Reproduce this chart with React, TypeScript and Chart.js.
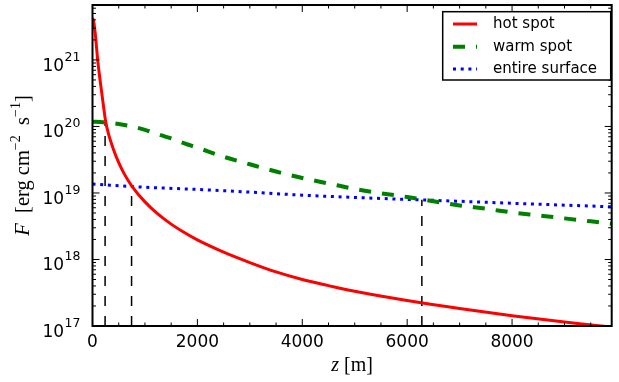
import React, { useEffect, useRef } from "react";
import { Chart, registerables } from "chart.js";

Chart.register(...registerables);

// ---- data (z in metres, F in erg cm^-2 s^-1) ----
const hotZ = [0, 25, 50, 75, 100, 125, 150, 200, 250, 300, 400, 500, 600, 750, 1000, 1250, 1500, 1750, 2000, 2500, 3000, 3500, 4000, 4500, 5000, 6000, 7000, 8000, 9000, 9700, 9900];
const hotF = [4.3e21, 3.7e21, 2.6e21, 1.6e21, 9.8e20, 6.6e20, 4.6e20, 2.3e20, 1.2e20, 8.0e19, 4.5e19, 2.85e19, 1.97e19, 1.27e19, 7.35e18, 4.8e18, 3.4e18, 2.54e18, 1.97e18, 1.29e18, 9.0e17, 6.5e17, 5.0e17, 4.05e17, 3.32e17, 2.41e17, 1.83e17, 1.43e17, 1.15e17, 1.0e17, 9.6e16];

const warmZ = [0, 200, 500, 700, 1000, 1300, 1500, 1800, 2000, 2500, 3000, 3500, 4000, 4500, 5000, 5500, 6000, 6500, 7000, 7500, 8000, 8500, 9000, 9500, 9900];
const warmF = [1.18e20, 1.16e20, 1.09e20, 1.02e20, 8.9e19, 7.4e19, 6.6e19, 5.4e19, 4.8e19, 3.5e19, 2.7e19, 2.1e19, 1.68e19, 1.39e19, 1.15e19, 9.9e18, 8.7e18, 7.5e18, 6.5e18, 5.8e18, 5.1e18, 4.6e18, 4.15e18, 3.75e18, 3.45e18];

const surfZ = [0, 1000, 2000, 3000, 4000, 5000, 6000, 7000, 8000, 9000, 9900];
const surfF = [1.36e19, 1.22e19, 1.13e19, 1.03e19, 9.27e18, 8.56e18, 8.0e18, 7.5e18, 7.0e18, 6.56e18, 6.2e18];

// crossing markers (vertical dashed lines)
const markerZ = [240, 745, 6280];
const markerF = [1.17e20, 1.27e19, 7.9e18];

const seriesLabels = ["hot spot", "warm spot", "entire surface"];
const xMajorTicks = [0, 2000, 4000, 6000, 8000];
const xMinorStep = 500;
const yDecades = [17, 18, 19, 20, 21];

const X_MIN = 0;
const X_MAX = 9900;
const Y_MIN = 1e17;
const Y_MAX = 6.7e21;

const RED = "#ff0000";
const GREEN = "#008000";
const BLUE = "#0000ff";
const GREEN_DASH = [12, 11];
const BLUE_DASH = [3, 4.7];

const SANS = "'DejaVu Sans', sans-serif";
const SERIF = "'Liberation Serif', 'DejaVu Serif', serif";

function drawSegments(ctx: CanvasRenderingContext2D, segs: { t: string; f: string; dy: number }[], cx: number, baseY: number) {
  let total = 0;
  const widths = segs.map((s) => {
    ctx.font = s.f;
    const w = ctx.measureText(s.t).width;
    total += w;
    return w;
  });
  let x = cx - total / 2;
  ctx.textAlign = "left";
  ctx.textBaseline = "alphabetic";
  segs.forEach((s, i) => {
    ctx.font = s.f;
    ctx.fillText(s.t, x, baseY + s.dy);
    x += widths[i];
  });
}

const framePlugin = {
  id: "mplFrame",
  afterDatasetsDraw(chart: any) {
    const { ctx, chartArea: a, scales } = chart;
    const xs = scales.x;
    const ys = scales.y;
    ctx.save();
    ctx.strokeStyle = "#000";
    ctx.fillStyle = "#000";
    ctx.lineWidth = 1;
    ctx.setLineDash([]);
    const line = (x1: number, y1: number, x2: number, y2: number) => {
      ctx.beginPath();
      ctx.moveTo(x1, y1);
      ctx.lineTo(x2, y2);
      ctx.stroke();
    };
    // x ticks (inside, bottom + top)
    for (let v = X_MIN; v <= X_MAX; v += xMinorStep) {
      const x = xs.getPixelForValue(v);
      const len = xMajorTicks.includes(v) ? 7 : 3.5;
      line(x, a.bottom, x, a.bottom - len);
      line(x, a.top, x, a.top + len);
    }
    // y ticks (log, inside, left + right)
    for (const d of yDecades) {
      for (let m = 1; m <= 9; m++) {
        const v = m * Math.pow(10, d);
        if (v > Y_MAX) break;
        const y = ys.getPixelForValue(v);
        const len = m === 1 ? 7 : 3.5;
        line(a.left, y, a.left + len, y);
        line(a.right, y, a.right - len, y);
      }
    }
    // frame
    ctx.lineWidth = 2;
    ctx.strokeRect(a.left, a.top, a.right - a.left, a.bottom - a.top);

    // x tick labels
    ctx.font = `17px ${SANS}`;
    ctx.textAlign = "center";
    ctx.textBaseline = "alphabetic";
    for (const v of xMajorTicks) {
      ctx.fillText(String(v), xs.getPixelForValue(v), a.bottom + 21);
    }
    // y tick labels 10^d
    for (const d of yDecades) {
      const y = ys.getPixelForValue(Math.pow(10, d));
      ctx.font = `12.5px ${SANS}`;
      const sup = String(d);
      const supW = ctx.measureText(sup).width;
      const right = a.left - 12;
      ctx.textAlign = "left";
      ctx.fillText(sup, right - supW, y + 0.7);
      ctx.font = `17px ${SANS}`;
      ctx.textAlign = "right";
      ctx.fillText("10", right - supW - 0.5, y + 10.7);
    }

    // x title
    drawSegments(
      ctx,
      [
        { t: "z", f: `italic 20px ${SERIF}`, dy: 0 },
        { t: " [m]", f: `20px ${SERIF}`, dy: 0 },
      ],
      (a.left + a.right) / 2,
      371
    );

    // y title (rotated)
    ctx.save();
    ctx.translate(22, (a.top + a.bottom) / 2);
    ctx.rotate(-Math.PI / 2);
    drawSegments(
      ctx,
      [
        { t: "F", f: `italic 20.5px ${SERIF}`, dy: 0 },
        { t: "  [erg cm", f: `20.5px ${SERIF}`, dy: 0 },
        { t: "−2", f: `14px ${SERIF}`, dy: -8.5 },
        { t: "  s", f: `20.5px ${SERIF}`, dy: 0 },
        { t: "−1", f: `14px ${SERIF}`, dy: -8.5 },
        { t: "]", f: `20.5px ${SERIF}`, dy: 0 },
      ],
      0,
      6.5
    );
    ctx.restore();

    // legend
    const lx = 442.7, ly = 11.7, lw = 168, lh = 68.3;
    ctx.fillStyle = "#fff";
    ctx.fillRect(lx, ly, lw, lh);
    ctx.lineWidth = 1.5;
    ctx.strokeStyle = "#000";
    ctx.strokeRect(lx, ly, lw, lh);
    const rows = [24, 46.7, 69];
    const styles = [
      { c: RED, w: 3, d: [] as number[] },
      { c: GREEN, w: 4, d: GREEN_DASH },
      { c: BLUE, w: 3, d: BLUE_DASH },
    ];
    seriesLabels.forEach((lab, i) => {
      const s = styles[i];
      ctx.strokeStyle = s.c;
      ctx.lineWidth = s.w;
      ctx.lineCap = "butt";
      ctx.setLineDash(s.d);
      line(453, rows[i], 477, rows[i]);
      ctx.setLineDash([]);
      ctx.fillStyle = "#000";
      ctx.font = `15px ${SANS}`;
      ctx.textAlign = "left";
      ctx.textBaseline = "middle";
      ctx.fillText(lab, 493, rows[i]);
    });
    ctx.restore();
  },
};

export default function App() {
  const ref = useRef<HTMLCanvasElement | null>(null);
  useEffect(() => {
    if (!ref.current) return;
    const mk = (label: string, zs: number[], fs: number[], color: string, width: number, dash: number[]) => ({
      label,
      data: zs.map((z, i) => ({ x: z, y: fs[i] })),
      borderColor: color,
      backgroundColor: color,
      borderWidth: width,
      borderDash: dash,
      borderCapStyle: "butt" as const,
      pointRadius: 0,
      fill: false,
      cubicInterpolationMode: "monotone" as const,
      clip: 0,
    });
    const markers = markerZ.map((z, i) => ({
      label: `marker${i}`,
      data: [
        { x: z, y: Y_MIN },
        { x: z, y: markerF[i] },
      ],
      borderColor: "#000",
      borderWidth: 1.5,
      borderDash: [10, 10],
      pointRadius: 0,
      fill: false,
      clip: 0,
    }));
    const chart = new Chart(ref.current, {
      type: "line",
      data: {
        datasets: [
          mk(seriesLabels[0], hotZ, hotF, RED, 3, []),
          mk(seriesLabels[1], warmZ, warmF, GREEN, 4, GREEN_DASH),
          mk(seriesLabels[2], surfZ, surfF, BLUE, 3, BLUE_DASH),
          ...markers,
        ] as any,
      },
      options: {
        responsive: false,
        animation: false,
        events: [],
        layout: { padding: { left: 92.5, right: 7.3, top: 5, bottom: 56 } },
        plugins: { legend: { display: false }, tooltip: { enabled: false } },
        scales: {
          x: { type: "linear", min: X_MIN, max: X_MAX, display: false },
          y: { type: "logarithmic", min: Y_MIN, max: Y_MAX, display: false },
        },
      },
      plugins: [framePlugin],
    });
    return () => chart.destroy();
  }, []);
  return (
    <div style={{ position: "absolute", left: 0, top: 0, width: 619, height: 382, background: "#fff" }}>
      <canvas ref={ref} width={619} height={382} style={{ display: "block" }} />
    </div>
  );
}
